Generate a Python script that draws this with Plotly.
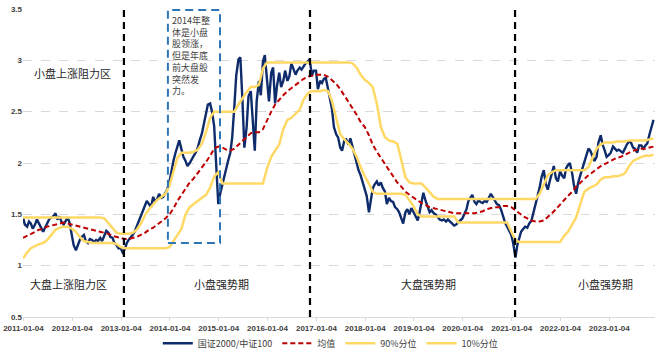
import pandas as pd
import plotly.graph_objects as go

# ---------------- data ----------------
ratio_2011 = [1.47,1.40,1.38,1.43,1.41,1.36,1.40,1.45,1.41,1.38,1.33,1.37,1.42,1.45,1.47,1.48,1.51,1.45,1.48,1.43,1.40,1.44,1.47,1.42]
ratio_2012 = [1.30,1.20,1.15,1.21,1.25,1.28,1.30,1.24,1.22,1.26,1.25,1.23,1.25,1.24,1.27,1.24,1.30,1.34,1.32,1.28,1.27,1.22,1.20,1.17]
ratio_2013 = [1.17,1.13,1.16,1.22,1.25,1.27,1.30,1.33,1.38,1.43,1.48,1.53,1.57,1.63,1.60,1.57,1.67,1.62,1.65,1.70,1.66,1.67,1.71,1.74]
ratio_2014 = [1.82,1.93,2.03,2.10,2.17,2.22,2.13,2.06,2.02,1.97,2.00,2.04,2.07,2.10,2.15,2.22,2.29,2.38,2.50,2.57,2.58,2.50,2.36,2.00]
ratio_2015 = [1.60,1.70,1.80,1.87,1.94,2.02,2.10,2.25,2.55,2.85,3.01,3.03,2.60,2.15,2.35,2.65,2.70,2.40,2.12,2.60,2.80,2.66,2.99,3.05]
ratio_2016 = [2.80,2.60,2.88,2.93,2.58,2.75,2.88,2.74,2.80,2.90,2.80,2.84,2.97,2.92,2.86,2.90,2.93,2.91,2.95,2.97,2.99,3.01,2.85,2.90]
ratio_2017 = [2.90,2.72,2.80,2.78,2.82,2.83,2.72,2.62,2.52,2.35,2.28,2.25,2.15,2.12,2.22,2.23,2.18,2.24,2.16,2.08,2.00,1.93,1.88,1.82]
ratio_2018 = [1.76,1.68,1.52,1.65,1.75,1.79,1.82,1.78,1.81,1.76,1.72,1.60,1.66,1.63,1.62,1.57,1.55,1.52,1.46,1.41,1.52,1.55,1.50,1.56]
ratio_2019 = [1.52,1.49,1.44,1.52,1.62,1.71,1.63,1.57,1.52,1.54,1.51,1.50,1.47,1.45,1.44,1.45,1.43,1.45,1.43,1.41,1.39,1.40,1.42,1.44]
ratio_2020 = [1.46,1.50,1.55,1.63,1.66,1.69,1.62,1.60,1.64,1.62,1.61,1.63,1.62,1.66,1.70,1.67,1.63,1.60,1.59,1.55,1.48,1.42,1.38,1.34]
ratio_2021 = [1.30,1.22,1.08,1.20,1.28,1.33,1.36,1.38,1.37,1.41,1.44,1.51,1.58,1.66,1.76,1.86,1.93,1.80,1.74,1.82,1.90,1.97,1.85,1.82]
ratio_2022 = [1.92,1.88,1.85,1.95,1.98,2.00,1.90,1.78,1.70,1.80,1.88,1.94,2.00,2.08,2.14,2.12,2.07,2.02,2.06,2.20,2.27,2.18,2.12,2.06]
ratio_2023 = [2.08,2.10,2.16,2.14,2.12,2.13,2.11,2.10,2.14,2.18,2.21,2.20,2.15,2.14,2.10,2.17,2.17,2.14,2.17,2.19,2.28,2.36,2.42]

mean_line = [
    1.27,1.29,1.31,1.33,1.35,1.36,1.38,1.39,1.40,1.41,1.42,1.41,
    1.40,1.39,1.38,1.37,1.36,1.35,1.34,1.33,1.32,1.31,1.29,1.28,
    1.27,1.26,1.26,1.27,1.28,1.30,1.32,1.35,1.37,1.40,1.43,1.46,
    1.50,1.56,1.63,1.69,1.75,1.81,1.85,1.90,1.95,2.01,2.07,2.14,
    2.16,2.15,2.13,2.12,2.14,2.18,2.22,2.26,2.29,2.30,2.30,2.33,
    2.42,2.50,2.57,2.62,2.66,2.70,2.73,2.76,2.79,2.82,2.84,2.85,
    2.86,2.86,2.86,2.84,2.81,2.77,2.72,2.66,2.60,2.53,2.47,2.40,
    2.35,2.27,2.18,2.11,2.05,1.99,1.93,1.87,1.81,1.77,1.72,1.69,
    1.66,1.63,1.61,1.59,1.57,1.56,1.55,1.54,1.53,1.52,1.51,1.51,
    1.51,1.51,1.51,1.51,1.52,1.53,1.55,1.56,1.57,1.57,1.58,1.58,
    1.57,1.54,1.51,1.48,1.46,1.44,1.43,1.43,1.44,1.47,1.51,1.55,
    1.60,1.64,1.68,1.72,1.77,1.81,1.85,1.88,1.91,1.94,1.97,1.99,
    2.01,2.03,2.05,2.06,2.08,2.10,2.12,2.13,2.14,2.14,2.15,2.16,
]
p90_line = [
    1.47,1.47,1.47,1.47,1.47,1.47,1.47,1.47,1.47,1.47,1.47,1.47,
    1.47,1.47,1.47,1.47,1.47,1.47,1.47,1.47,1.46,1.41,1.36,1.32,
    1.31,1.31,1.31,1.32,1.35,1.41,1.49,1.55,1.60,1.64,1.67,1.70,
    1.78,1.92,2.05,2.10,2.10,2.10,2.11,2.13,2.19,2.30,2.44,2.50,
    2.50,2.50,2.50,2.50,2.50,2.57,2.63,2.69,2.74,2.74,2.76,2.92,
    2.98,2.98,2.98,2.98,2.98,2.98,2.98,2.98,2.98,2.98,2.98,2.98,
    2.98,2.98,2.98,2.98,2.98,2.98,2.98,2.98,2.98,2.97,2.93,2.86,
    2.81,2.78,2.74,2.58,2.35,2.25,2.22,2.21,2.19,2.03,1.86,1.81,
    1.80,1.80,1.80,1.76,1.71,1.67,1.65,1.65,1.65,1.65,1.65,1.65,
    1.65,1.65,1.65,1.65,1.65,1.65,1.65,1.65,1.65,1.65,1.65,1.65,
    1.65,1.65,1.65,1.65,1.65,1.65,1.65,1.70,1.80,1.88,1.91,1.93,
    1.93,1.93,1.93,1.93,1.93,1.93,1.93,1.96,2.06,2.14,2.18,2.20,
    2.20,2.20,2.21,2.21,2.21,2.22,2.22,2.22,2.22,2.22,2.23,2.24,
]
p10_line = [
    1.07,1.13,1.17,1.19,1.21,1.22,1.25,1.30,1.35,1.37,1.38,1.38,
    1.36,1.33,1.28,1.24,1.23,1.22,1.22,1.22,1.22,1.22,1.22,1.21,
    1.18,1.17,1.17,1.17,1.17,1.17,1.17,1.17,1.17,1.17,1.17,1.17,
    1.18,1.24,1.30,1.36,1.50,1.57,1.60,1.63,1.66,1.69,1.76,1.87,
    1.91,1.80,1.80,1.80,1.80,1.80,1.80,1.80,1.80,1.80,1.80,1.80,
    1.95,2.06,2.12,2.18,2.33,2.42,2.44,2.48,2.52,2.62,2.68,2.70,
    2.70,2.70,2.71,2.70,2.60,2.44,2.28,2.23,2.19,2.14,2.06,1.96,
    1.87,1.80,1.72,1.70,1.70,1.70,1.70,1.70,1.70,1.70,1.69,1.64,
    1.58,1.50,1.48,1.48,1.48,1.48,1.48,1.48,1.48,1.48,1.48,1.42,
    1.42,1.42,1.42,1.42,1.42,1.42,1.42,1.42,1.42,1.42,1.42,1.42,
    1.33,1.25,1.23,1.23,1.23,1.23,1.23,1.23,1.23,1.23,1.23,1.23,
    1.23,1.29,1.33,1.40,1.47,1.60,1.72,1.75,1.77,1.79,1.84,1.86,
    1.86,1.87,1.87,1.88,1.90,1.97,2.02,2.04,2.06,2.07,2.07,2.08,
]

tick_labels = ["2011-01-04","2012-01-04","2013-01-04","2014-01-04","2015-01-04","2016-01-04",
               "2017-01-04","2018-01-04","2019-01-04","2020-01-04","2021-01-04","2022-01-04","2023-01-04"]
y_ticks = [0.5, 1, 1.5, 2, 2.5, 3, 3.5]
regime_breaks = ["2013-01-25", "2016-11-17", "2021-01-29"]
box_x = ["2013-12-20", "2015-01-14"]
box_y = [1.22, 3.49]
box_note = "2014年整<br>体是小盘<br>股领涨，<br>但是年底<br>前大盘股<br>突然发<br>力。"
zone_labels = [("2012-01-04", 2.88, "小盘上涨阻力区"), ("2011-12-08", 0.82, "大盘上涨阻力区"),
               ("2015-01-22", 0.82, "小盘强势期"), ("2019-04-26", 0.82, "大盘强势期"),
               ("2022-12-05", 0.82, "小盘强势期")]

ratio = (ratio_2011 + ratio_2012 + ratio_2013 + ratio_2014 + ratio_2015 + ratio_2016 + ratio_2017
         + ratio_2018 + ratio_2019 + ratio_2020 + ratio_2021 + ratio_2022 + ratio_2023)
ratio_dates = pd.date_range("2011-01-01", periods=len(ratio), freq="SMS")
band_dates = pd.date_range("2011-01-01", periods=len(mean_line), freq="MS")

# ---------------- figure ----------------
fig = go.Figure()
fig.add_trace(go.Scatter(x=ratio_dates, y=ratio, mode="lines", name="国证2000/中证100",
                         line=dict(color="#0e2b6b", width=2.4)))
fig.add_trace(go.Scatter(x=band_dates, y=mean_line, mode="lines", name="均值",
                         line=dict(color="#c00000", width=2, dash="5px,3px")))
fig.add_trace(go.Scatter(x=band_dates, y=p90_line, mode="lines", name="90%分位",
                         line=dict(color="#ffd966", width=2.5)))
fig.add_trace(go.Scatter(x=band_dates, y=p10_line, mode="lines", name="10%分位",
                         line=dict(color="#ffd966", width=2.5)))

for d in regime_breaks:
    fig.add_shape(type="line", xref="x", yref="y", x0=d, x1=d, y0=0.5, y1=3.5,
                  line=dict(color="black", width=2.2, dash="7px,5px"), layer="above")

fig.add_shape(type="rect", xref="x", yref="y", x0=box_x[0], x1=box_x[1], y0=box_y[0], y1=box_y[1],
              line=dict(color="#2e75b6", width=2, dash="8px,5px"), layer="above")

fig.add_annotation(x="2014-01-10", y=3.46, xref="x", yref="y", text=box_note, showarrow=False,
                   xanchor="left", yanchor="top", align="left", borderpad=0,
                   font=dict(family="Noto Sans CJK SC", size=9, color="#404040"))

for d, v, t in zone_labels:
    fig.add_annotation(x=d, y=v, xref="x", yref="y", text=t, showarrow=False,
                       font=dict(family="Noto Sans CJK SC", size=11, color="#262626"))

fig.update_layout(
    width=663, height=356,
    margin=dict(l=23, r=8, t=9, b=39, autoexpand=False),
    plot_bgcolor="white", paper_bgcolor="white",
    showlegend=True,
    legend=dict(orientation="h", x=0.487, xanchor="center", y=-0.085, yanchor="middle",
                font=dict(family="Noto Sans CJK SC", size=9, color="#404040"),
                itemwidth=30, tracegroupgap=0, bgcolor="rgba(0,0,0,0)"),
    xaxis=dict(type="date", range=["2011-01-01", "2023-12-12"], automargin=False,
               tickvals=tick_labels, ticktext=tick_labels,
               tickfont=dict(family="Liberation Sans", size=8, color="#404040", weight="bold"),
               showgrid=False, showline=True, linecolor="#d9d9d9", linewidth=1,
               ticks="outside", ticklen=3, tickcolor="#d9d9d9", zeroline=False),
    yaxis=dict(range=[0.5, 3.5], automargin=False, tickvals=y_ticks,
               ticktext=[f"{v:g}" for v in y_ticks],
               tickfont=dict(family="Liberation Sans", size=8, color="#404040", weight="bold"),
               showgrid=True, gridcolor="#d9d9d9", gridwidth=1, griddash="dash",
               showline=False, zeroline=False, ticks=""),
)

fig.write_html("out.html", config={"displayModeBar": False},
               post_script="document.body.style.margin='0';document.body.style.overflow='hidden';")
